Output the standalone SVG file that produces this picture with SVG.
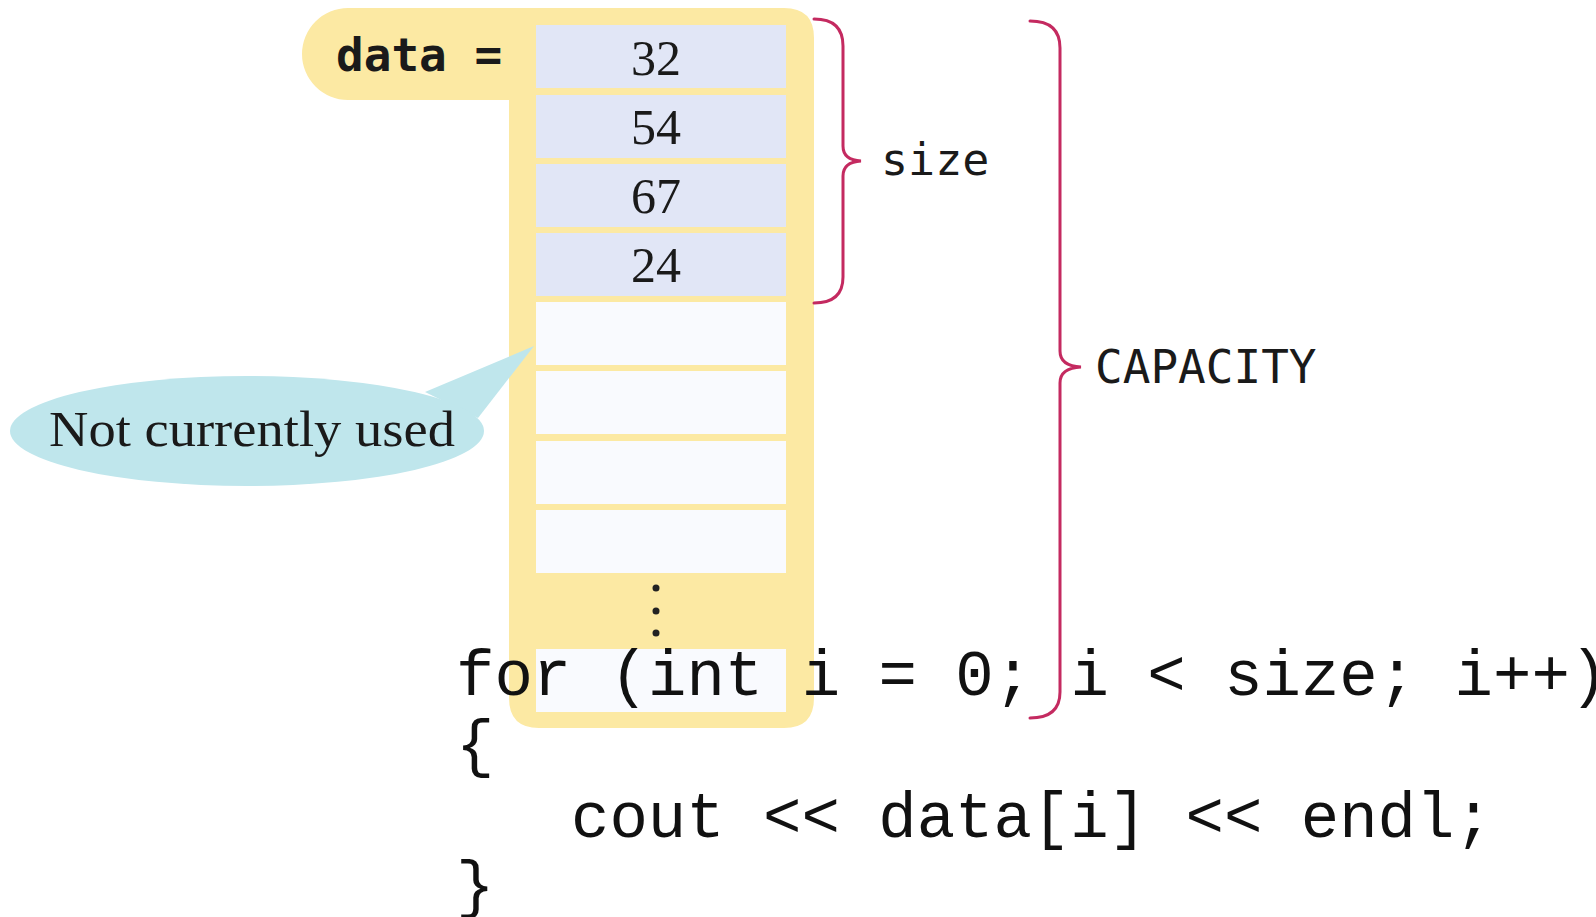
<svg xmlns="http://www.w3.org/2000/svg" width="1596" height="917" viewBox="0 0 1596 917">
<style>
.cell{fill:#e1e6f6}
.empty{fill:#f9fafe}
.num{font-family:"Liberation Serif",serif;font-size:50px;fill:#1a1a1a;text-anchor:middle}
.mono{font-family:"DejaVu Sans Mono",monospace;fill:#1a1a1a}
.brace{fill:none;stroke:#c42a60;stroke-width:3;stroke-linecap:round}
.code{font-family:"Liberation Mono",monospace;font-size:64px;fill:#111}
</style>
<rect width="1596" height="917" fill="#fff"/>
<g id="array">
<path d="M348,8 L784,8 Q814,8 814,38 L814,698 Q814,728 784,728 L539,728 Q509,728 509,698 L509,100 L348,100 A46,46 0 0 1 348,8 Z" fill="#fce9a3"/>
<text class="mono" x="336" y="71" font-size="46" font-weight="bold">data =</text>
<rect class="cell" x="536" y="25" width="250" height="63"/>
<rect class="cell" x="536" y="95" width="250" height="63"/>
<rect class="cell" x="536" y="164" width="250" height="63"/>
<rect class="cell" x="536" y="233" width="250" height="63"/>
<rect class="empty" x="536" y="302" width="250" height="63"/>
<rect class="empty" x="536" y="371" width="250" height="63"/>
<rect class="empty" x="536" y="441" width="250" height="63"/>
<rect class="empty" x="536" y="510" width="250" height="63"/>
<rect class="empty" x="536" y="649" width="250" height="63"/>
<text class="num" x="656" y="75">32</text>
<text class="num" x="656" y="144">54</text>
<text class="num" x="656" y="213">67</text>
<text class="num" x="656" y="282">24</text>
<circle cx="656" cy="588" r="3.5" fill="#222"/>
<circle cx="656" cy="611" r="3.5" fill="#222"/>
<circle cx="656" cy="633" r="3.5" fill="#222"/>
</g>
<g id="callout">
<path d="M425,392 L534,346 L478,418 Z" fill="#bfe6ec"/>
<ellipse cx="247" cy="431" rx="237" ry="55" fill="#bfe6ec"/>
<text x="49" y="446" font-family="Liberation Serif,serif" font-size="50" fill="#1a1a1a" textLength="406" lengthAdjust="spacingAndGlyphs">Not currently used</text>
</g>
<g id="connectors">
<path class="brace" d="M814,19 Q843,19 843,46 L843,146 Q843,160 861,161 Q843,162 843,176 L843,277 Q843,303 814,303"/>
<path class="brace" d="M1030,21 Q1060,21 1060,48 L1060,351 Q1060,366 1081,367 Q1060,368 1060,383 L1060,692 Q1060,718 1030,718"/>
</g>
<g id="size-label">
<text class="mono" x="881" y="175" font-size="45">size</text>
</g>
<g id="capacity-label">
<text class="mono" x="1095" y="383" font-size="46">CAPACITY</text>
</g>
<g id="code">
<text class="code" x="456" y="695">for (int i = 0; i &lt; size; i++)</text>
<text class="code" x="456" y="765">{</text>
<text class="code" x="571" y="837">cout &lt;&lt; data[i] &lt;&lt; endl;</text>
<text class="code" x="456" y="906">}</text>
</g>
</svg>
